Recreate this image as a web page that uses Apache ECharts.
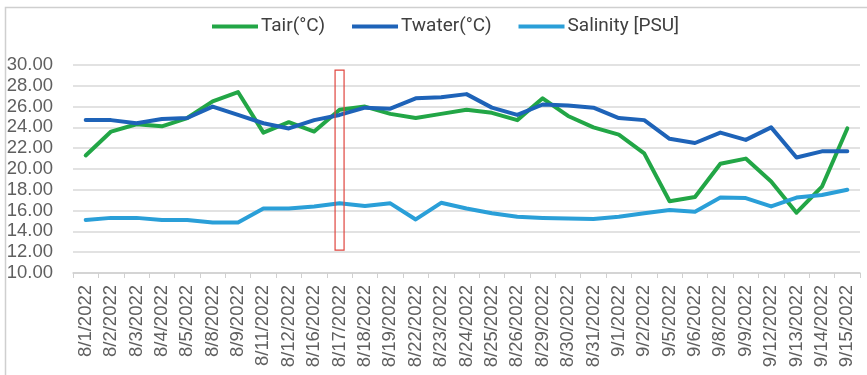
<!DOCTYPE html>
<html>
<head>
<meta charset="utf-8">
<script src="https://cdn.jsdelivr.net/npm/echarts@6/dist/echarts.min.js"></script>
<style>
  html, body { margin: 0; padding: 0; background: #ffffff; }
  #chart { width: 867px; height: 375px; }
</style>
</head>
<body>
<div id="chart"></div>
<script>
// Sampling dates
const dates = [
  '8/1/2022', '8/2/2022', '8/3/2022', '8/4/2022', '8/5/2022', '8/8/2022', '8/9/2022',
  '8/11/2022', '8/12/2022', '8/16/2022', '8/17/2022', '8/18/2022', '8/19/2022',
  '8/22/2022', '8/23/2022', '8/24/2022', '8/25/2022', '8/26/2022', '8/29/2022',
  '8/30/2022', '8/31/2022', '9/1/2022', '9/2/2022', '9/5/2022', '9/6/2022',
  '9/8/2022', '9/9/2022', '9/12/2022', '9/13/2022', '9/14/2022', '9/15/2022'
];

// Air temperature (°C)
const tair = [
  21.3, 23.6, 24.3, 24.1, 24.9, 26.5, 27.4,
  23.5, 24.5, 23.6, 25.7, 26.0, 25.3,
  24.9, 25.3, 25.7, 25.4, 24.7, 26.8,
  25.1, 24.0, 23.3, 21.5, 16.9, 17.3,
  20.5, 21.0, 18.8, 15.8, 18.3, 23.9
];

// Water temperature (°C)
const twater = [
  24.7, 24.7, 24.4, 24.8, 24.9, 26.0, 25.2,
  24.4, 23.9, 24.7, 25.2, 25.9, 25.8,
  26.8, 26.9, 27.2, 25.9, 25.2, 26.2,
  26.1, 25.9, 24.9, 24.7, 22.9, 22.5,
  23.5, 22.8, 24.0, 21.1, 21.7, 21.7
];

// Salinity (PSU)
const salinity = [
  15.1, 15.3, 15.3, 15.1, 15.1, 14.85, 14.85,
  16.2, 16.2, 16.4, 16.7, 16.45, 16.7,
  15.15, 16.75, 16.2, 15.75, 15.4, 15.3,
  15.25, 15.2, 15.4, 15.75, 16.05, 15.9,
  17.25, 17.2, 16.4, 17.25, 17.5, 18.0
];

// Y axis scale
const yMin = 10;
const yMax = 30;
const yStep = 2;

// Highlighted date and the vertical span of its outline box
const highlightDate = '8/17/2022';
const highlightTop = 29.5;
const highlightBottom = 12.2;

const axisFont = '"Liberation Sans", Arial, sans-serif';
const legendFont = 'Roboto, "Noto Sans", sans-serif';

const chart = echarts.init(document.getElementById('chart'), null, { renderer: 'canvas' });

function lineSeries(name, data, color) {
  return {
    name: name,
    type: 'line',
    data: data,
    symbol: 'none',
    smooth: false,
    lineStyle: { width: 4, color: color, join: 'round', cap: 'round' },
    itemStyle: { color: color },
    z: 3
  };
}

chart.setOption({
  animation: false,
  backgroundColor: '#ffffff',
  legend: {
    top: 12,
    left: 207,
    itemWidth: 46,
    itemHeight: 4,
    itemGap: 27,
    icon: 'rect',
    textStyle: { fontFamily: legendFont, fontSize: 19, color: '#404040', padding: [0, 0, 0, -2] },
    data: ['Tair(°C)', 'Twater(°C)', 'Salinity [PSU]']
  },
  grid: { left: 73, right: 7, top: 65, bottom: 102, containLabel: false },
  xAxis: {
    type: 'category',
    data: dates,
    boundaryGap: true,
    axisLine: { lineStyle: { color: '#d0d0d0', width: 1.5 } },
    axisTick: { show: true, interval: 0, length: 5, lineStyle: { color: '#d0d0d0' } },
    axisLabel: {
      interval: 0,
      rotate: 90,
      margin: 12,
      fontFamily: axisFont,
      fontSize: 18.5,
      color: '#5f5f5f'
    },
    splitLine: { show: false }
  },
  yAxis: {
    type: 'value',
    min: yMin,
    max: yMax,
    interval: yStep,
    axisLine: { show: false },
    axisTick: { show: false },
    axisLabel: {
      margin: 20,
      fontFamily: axisFont,
      fontSize: 18.5,
      color: '#5f5f5f',
      formatter: v => v.toFixed(2)
    },
    splitLine: { lineStyle: { color: '#d9d9d9', width: 1.5 } }
  },
  series: [
    lineSeries('Tair(°C)', tair, '#22a646'),
    lineSeries('Twater(°C)', twater, '#1e63b8'),
    lineSeries('Salinity [PSU]', salinity, '#2a9fd8')
  ]
});

// Frame around the chart and outline box around the highlighted date
function drawOverlays() {
  const top = chart.convertToPixel({ gridIndex: 0 }, [highlightDate, highlightTop]);
  const bottom = chart.convertToPixel({ gridIndex: 0 }, [highlightDate, highlightBottom]);
  const halfW = 4.5;
  chart.setOption({
    graphic: [
      {
        type: 'polyline',
        shape: { points: [[5.5, 375], [5.5, 7.5], [867, 7.5]] },
        style: { stroke: '#cfcfcf', fill: null, lineWidth: 1.5 },
        silent: true,
        z: 10
      },
      {
        type: 'rect',
        shape: {
          x: top[0] - halfW,
          y: top[1],
          width: halfW * 2,
          height: bottom[1] - top[1]
        },
        style: { stroke: '#e0463f', fill: null, lineWidth: 1.2 },
        silent: true,
        z: 10
      }
    ]
  });
}
drawOverlays();
</script>
</body>
</html>
